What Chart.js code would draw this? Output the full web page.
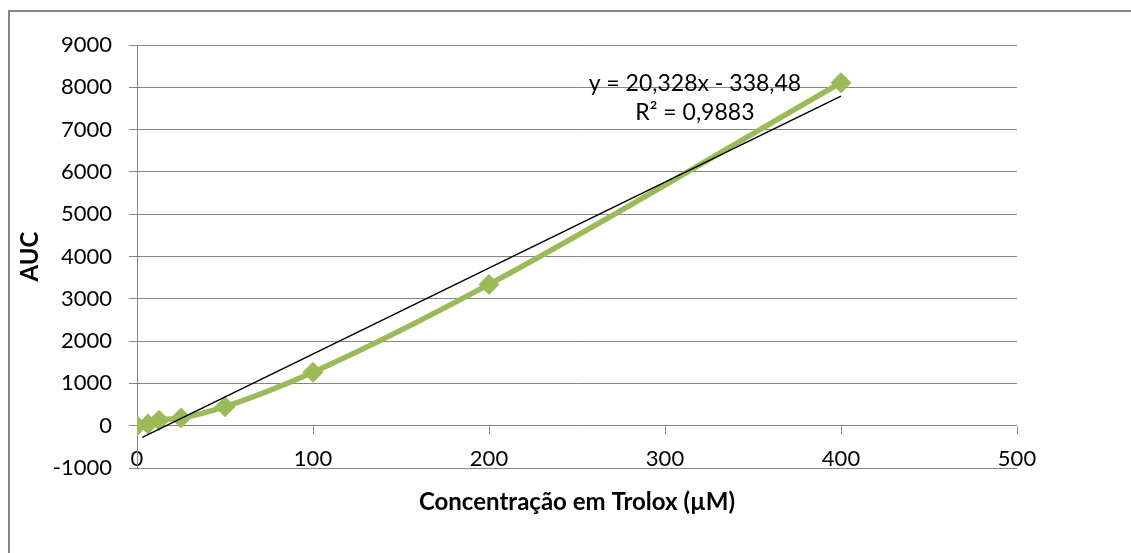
<!DOCTYPE html>
<html>
<head>
<meta charset="utf-8">
<script src="https://cdn.jsdelivr.net/npm/chart.js@4.4.1/dist/chart.umd.min.js"></script>
<style>
  html, body { margin: 0; padding: 0; background: #fff; }
  #wrap { width: 1131px; height: 553px; position: relative; }
</style>
</head>
<body>
<div id="wrap"><canvas id="chart"></canvas></div>
<script>
// values
const concentrations = [0, 6.25, 12.5, 25, 50, 100, 200, 400];
const aucValues = [0, 40, 130, 180, 450, 1265, 3340, 8110];

// trendline end points (Excel linear fit shown on the chart)
const trendX = [3, 400];
const trendY = [-277.5, 7792.7];

const equationText = "y = 20,328x - 338,48";
const r2Text = "R² = 0,9883";

const xTicks = [0, 100, 200, 300, 400, 500];
const yTicks = [-1000, 0, 1000, 2000, 3000, 4000, 5000, 6000, 7000, 8000, 9000];

const gridGray = "#868686";
const green = "#9BBB59";
const fontFamily = "Lato, 'Open Sans', sans-serif";

// draws the frame, the small ticks on the zero line and the equation text
const extras = {
    id: "extras",
    beforeDraw(chart) {
        const ctx = chart.ctx;
        ctx.save();
        ctx.strokeStyle = gridGray;
        ctx.lineWidth = 2;
        ctx.beginPath();
        ctx.moveTo(9, 600);
        ctx.lineTo(9, 11);
        ctx.lineTo(1200, 11);
        ctx.stroke();
        ctx.restore();
    },
    beforeDatasetsDraw(chart) {
        const ctx = chart.ctx;
        const xs = chart.scales.x, ys = chart.scales.y;
        const y0 = Math.round(ys.getPixelForValue(0)) + 0.5;
        ctx.save();
        ctx.strokeStyle = gridGray;
        ctx.lineWidth = 1;
        ctx.beginPath();
        xTicks.forEach(v => {
            const px = Math.round(xs.getPixelForValue(v)) + 0.5;
            ctx.moveTo(px, y0);
            ctx.lineTo(px, y0 + 8);
        });
        ctx.stroke();
        ctx.restore();
    },
    afterDraw(chart) {
        const ctx = chart.ctx;
        const xs = chart.scales.x, ys = chart.scales.y;
        ctx.save();
        ctx.fillStyle = "#000";
        ctx.font = "23px " + fontFamily;
        ctx.textAlign = "center";
        ctx.textBaseline = "middle";
        ctx.fillText(equationText, xs.getPixelForValue(317), ys.getPixelForValue(8080));
        ctx.fillText(r2Text, xs.getPixelForValue(317), ys.getPixelForValue(7400));
        ctx.restore();
    }
};

new Chart(document.getElementById("chart"), {
    type: "scatter",
    data: {
        datasets: [
            {
                label: "AUC",
                data: concentrations.map((x, i) => ({ x: x, y: aucValues[i] })),
                showLine: true,
                borderColor: green,
                backgroundColor: green,
                borderWidth: 5.5,
                cubicInterpolationMode: "monotone",
                pointStyle: "rectRot",
                pointRadius: 10.5,
                pointBorderWidth: 0,
                order: 1
            },
            {
                label: "trend",
                data: trendX.map((x, i) => ({ x: x, y: trendY[i] })),
                showLine: true,
                borderColor: "#000",
                borderWidth: 1.5,
                pointRadius: 0,
                order: 0
            }
        ]
    },
    options: {
        responsive: true,
        maintainAspectRatio: false,
        animation: false,
        layout: { padding: { top: 45, right: 114, bottom: 0, left: 0 } },
        plugins: {
            legend: { display: false },
            tooltip: { enabled: false }
        },
        scales: {
            x: {
                type: "linear",
                min: 0,
                max: 500,
                afterBuildTicks: s => { s.ticks = xTicks.map(v => ({ value: v })); },
                afterFit: s => { s.height = 85; },
                grid: { display: true, drawOnChartArea: false, drawTicks: false },
                border: { display: false },
                ticks: {
                    mirror: true,
                    padding: -4,
                    autoSkip: false,
                    color: "#000",
                    font: { family: fontFamily, size: 22 },
                    maxRotation: 0,
                    callback: v => String(v)
                },
                title: {
                    display: true,
                    text: "Concentração em Trolox (µM)",
                    color: "#000",
                    font: { family: fontFamily, size: 24, weight: "bold" },
                    padding: { top: 0, bottom: 36 }
                }
            },
            y: {
                min: -1000,
                max: 9000,
                afterBuildTicks: s => { s.ticks = yTicks.map(v => ({ value: v })); },
                afterFit: s => { s.width = 137; },
                grid: { color: gridGray, lineWidth: 1, tickLength: 8, drawTicks: true },
                border: { display: true, color: gridGray, width: 1 },
                ticks: {
                    padding: 17,
                    color: "#000",
                    font: { family: fontFamily, size: 22 },
                    callback: v => String(v)
                },
                title: {
                    display: true,
                    text: "AUC",
                    color: "#000",
                    font: { family: fontFamily, size: 24, weight: "bold" },
                    padding: { top: 16, bottom: 0 }
                }
            }
        }
    },
    plugins: [extras]
});
</script>
</body>
</html>
